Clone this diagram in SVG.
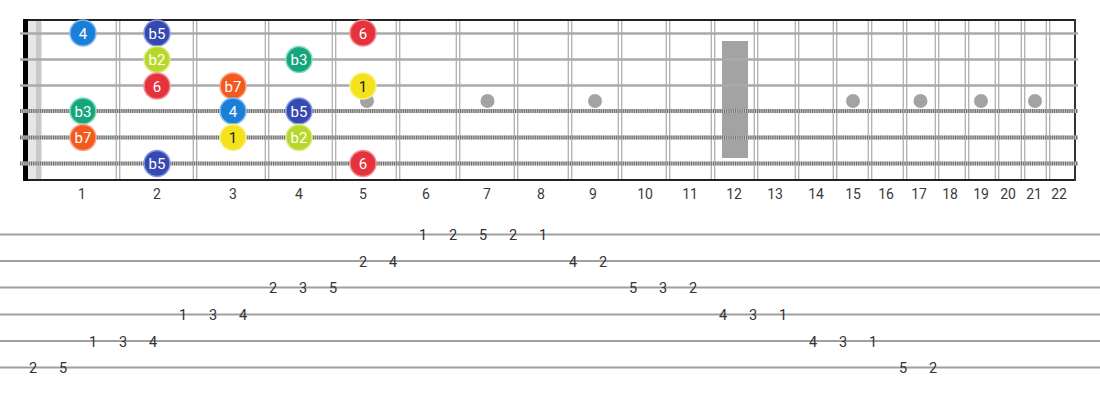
<svg xmlns="http://www.w3.org/2000/svg" width="1100" height="400" viewBox="0 0 1100 400">
<style>
.fw{stroke:#b0b0b0;stroke-width:1.3}
.str{stroke:#aaaaaa;stroke-width:2.6}
.wb{stroke:#c4c4c4;stroke-width:4}
.wd{stroke:#6e6e6e;stroke-width:4;stroke-dasharray:1.1 1.1}
.dot{fill:#a3a3a3}
.fn{font-family:Roboto,"Liberation Sans",sans-serif;font-size:14px;fill:#3a3a3a;text-anchor:middle}
.tl{stroke:#a0a0a0;stroke-width:2}
.tn{font-family:Roboto,"Liberation Sans",sans-serif;font-size:14.5px;fill:#333;text-anchor:middle}
.nt{font-family:Roboto,"Liberation Sans",sans-serif;font-size:15px;fill:#fff;text-anchor:middle}
.nk{fill:#222}
.c1{fill:#f4e21c;stroke:#fbf08a;stroke-width:1.5}
.c2{fill:#b9d62a;stroke:#dbed8a;stroke-width:1.5}
.c3{fill:#17a57c;stroke:#7fdcc0;stroke-width:1.5}
.c4{fill:#1b7fd8;stroke:#7cbcf2;stroke-width:1.5}
.c5{fill:#3549b0;stroke:#8797e6;stroke-width:1.5}
.c6{fill:#e5333d;stroke:#f48d92;stroke-width:1.5}
.c7{fill:#f25a1e;stroke:#f9a584;stroke-width:1.5}
</style>
<rect width="1100" height="400" fill="#fff"/>
<g id="fretboard">
<rect x="28" y="20" width="14" height="160" fill="#e6e6e6"/>
<rect x="36" y="20" width="5" height="160" fill="#c9c9c9"/>
<rect x="722" y="41" width="26" height="117" fill="#a3a3a3"/>
<g id="frets">
<line class="fw" x1="116.3" y1="20" x2="116.3" y2="180"/><line class="fw" x1="119.7" y1="20" x2="119.7" y2="180"/>
<line class="fw" x1="193.3" y1="20" x2="193.3" y2="180"/><line class="fw" x1="196.7" y1="20" x2="196.7" y2="180"/>
<line class="fw" x1="265.3" y1="20" x2="265.3" y2="180"/><line class="fw" x1="268.7" y1="20" x2="268.7" y2="180"/>
<line class="fw" x1="332.3" y1="20" x2="332.3" y2="180"/><line class="fw" x1="335.7" y1="20" x2="335.7" y2="180"/>
<line class="fw" x1="396.3" y1="20" x2="396.3" y2="180"/><line class="fw" x1="399.7" y1="20" x2="399.7" y2="180"/>
<line class="fw" x1="456.3" y1="20" x2="456.3" y2="180"/><line class="fw" x1="459.7" y1="20" x2="459.7" y2="180"/>
<line class="fw" x1="514.3" y1="20" x2="514.3" y2="180"/><line class="fw" x1="517.7" y1="20" x2="517.7" y2="180"/>
<line class="fw" x1="568.3" y1="20" x2="568.3" y2="180"/><line class="fw" x1="571.7" y1="20" x2="571.7" y2="180"/>
<line class="fw" x1="618.3" y1="20" x2="618.3" y2="180"/><line class="fw" x1="621.7" y1="20" x2="621.7" y2="180"/>
<line class="fw" x1="666.3" y1="20" x2="666.3" y2="180"/><line class="fw" x1="669.7" y1="20" x2="669.7" y2="180"/>
<line class="fw" x1="711.3" y1="20" x2="711.3" y2="180"/><line class="fw" x1="714.7" y1="20" x2="714.7" y2="180"/>
<line class="fw" x1="754.3" y1="20" x2="754.3" y2="180"/><line class="fw" x1="757.7" y1="20" x2="757.7" y2="180"/>
<line class="fw" x1="795.3" y1="20" x2="795.3" y2="180"/><line class="fw" x1="798.7" y1="20" x2="798.7" y2="180"/>
<line class="fw" x1="833.3" y1="20" x2="833.3" y2="180"/><line class="fw" x1="836.7" y1="20" x2="836.7" y2="180"/>
<line class="fw" x1="868.3" y1="20" x2="868.3" y2="180"/><line class="fw" x1="871.7" y1="20" x2="871.7" y2="180"/>
<line class="fw" x1="903.3" y1="20" x2="903.3" y2="180"/><line class="fw" x1="906.7" y1="20" x2="906.7" y2="180"/>
<line class="fw" x1="935.3" y1="20" x2="935.3" y2="180"/><line class="fw" x1="938.7" y1="20" x2="938.7" y2="180"/>
<line class="fw" x1="965.3" y1="20" x2="965.3" y2="180"/><line class="fw" x1="968.7" y1="20" x2="968.7" y2="180"/>
<line class="fw" x1="995.3" y1="20" x2="995.3" y2="180"/><line class="fw" x1="998.7" y1="20" x2="998.7" y2="180"/>
<line class="fw" x1="1021.3" y1="20" x2="1021.3" y2="180"/><line class="fw" x1="1024.7" y1="20" x2="1024.7" y2="180"/>
<line class="fw" x1="1046.3" y1="20" x2="1046.3" y2="180"/><line class="fw" x1="1049.7" y1="20" x2="1049.7" y2="180"/>
</g>
<g id="inlays">
<circle class="dot" cx="367" cy="101" r="7"/>
<circle class="dot" cx="487.5" cy="101" r="7"/>
<circle class="dot" cx="595" cy="101" r="7"/>
<circle class="dot" cx="853" cy="101" r="7"/>
<circle class="dot" cx="920.5" cy="101" r="7"/>
<circle class="dot" cx="981" cy="101" r="7"/>
<circle class="dot" cx="1035" cy="101" r="7"/>
</g>
<line x1="23" y1="20" x2="1076" y2="20" stroke="#222" stroke-width="2"/>
<line x1="23" y1="180" x2="1076" y2="180" stroke="#222" stroke-width="2"/>
<line x1="1075" y1="19" x2="1075" y2="181" stroke="#333" stroke-width="2"/>
<rect x="23" y="19" width="5" height="162" fill="#000"/>
<g id="strings">
<line class="str" x1="20" y1="33.5" x2="1078" y2="33.5"/>
<line class="str" x1="20" y1="59.5" x2="1078" y2="59.5"/>
<line class="str" x1="20" y1="85.5" x2="1078" y2="85.5"/>
<line class="wb" x1="20" y1="111" x2="1078" y2="111"/><line class="wd" x1="20" y1="111" x2="1078" y2="111"/>
<line class="wb" x1="20" y1="137.5" x2="1078" y2="137.5"/><line class="wd" x1="20" y1="137.5" x2="1078" y2="137.5"/>
<line class="wb" x1="20" y1="163.5" x2="1078" y2="163.5"/><line class="wd" x1="20" y1="163.5" x2="1078" y2="163.5"/>
</g>
<g id="fret-numbers">
<text class="fn" x="82" y="199">1</text>
<text class="fn" x="157" y="199">2</text>
<text class="fn" x="233" y="199">3</text>
<text class="fn" x="299" y="199">4</text>
<text class="fn" x="363" y="199">5</text>
<text class="fn" x="426" y="199">6</text>
<text class="fn" x="487" y="199">7</text>
<text class="fn" x="541" y="199">8</text>
<text class="fn" x="593" y="199">9</text>
<text class="fn" x="645" y="199">10</text>
<text class="fn" x="690" y="199">11</text>
<text class="fn" x="734" y="199">12</text>
<text class="fn" x="775" y="199">13</text>
<text class="fn" x="816" y="199">14</text>
<text class="fn" x="853" y="199">15</text>
<text class="fn" x="886" y="199">16</text>
<text class="fn" x="919" y="199">17</text>
<text class="fn" x="950" y="199">18</text>
<text class="fn" x="981" y="199">19</text>
<text class="fn" x="1008" y="199">20</text>
<text class="fn" x="1034" y="199">21</text>
<text class="fn" x="1059" y="199">22</text>
</g>
</g>
<g id="connectors"></g>
<g id="n-s1-4"><circle class="c4" cx="83" cy="33" r="13"/><text class="nt" x="83" y="38.5">4</text></g>
<g id="n-s1-b5"><circle class="c5" cx="157" cy="33" r="13"/><text class="nt" x="157" y="38.5">b5</text></g>
<g id="n-s1-6"><circle class="c6" cx="363" cy="33" r="13"/><text class="nt" x="363" y="38.5">6</text></g>
<g id="n-s2-b2"><circle class="c2" cx="157" cy="59.5" r="13"/><text class="nt" x="157" y="65">b2</text></g>
<g id="n-s2-b3"><circle class="c3" cx="299" cy="59.5" r="13"/><text class="nt" x="299" y="65">b3</text></g>
<g id="n-s3-6"><circle class="c6" cx="157" cy="86" r="13"/><text class="nt" x="157" y="91.5">6</text></g>
<g id="n-s3-b7"><circle class="c7" cx="233" cy="86" r="13"/><text class="nt" x="233" y="91.5">b7</text></g>
<g id="n-s3-1"><circle class="c1" cx="363" cy="86" r="13"/><text class="nt nk" x="363" y="91.5">1</text></g>
<g id="n-s4-b3"><circle class="c3" cx="83" cy="111" r="13"/><text class="nt" x="83" y="116.5">b3</text></g>
<g id="n-s4-4"><circle class="c4" cx="233" cy="111" r="13"/><text class="nt" x="233" y="116.5">4</text></g>
<g id="n-s4-b5"><circle class="c5" cx="299" cy="111" r="13"/><text class="nt" x="299" y="116.5">b5</text></g>
<g id="n-s5-b7"><circle class="c7" cx="83" cy="137.5" r="13"/><text class="nt" x="83" y="143">b7</text></g>
<g id="n-s5-1"><circle class="c1" cx="233" cy="137.5" r="13"/><text class="nt nk" x="233" y="143">1</text></g>
<g id="n-s5-b2"><circle class="c2" cx="299" cy="137.5" r="13"/><text class="nt" x="299" y="143">b2</text></g>
<g id="n-s6-b5"><circle class="c5" cx="157" cy="163.5" r="13"/><text class="nt" x="157" y="169">b5</text></g>
<g id="n-s6-6"><circle class="c6" cx="363" cy="163.5" r="13"/><text class="nt" x="363" y="169">6</text></g>
<g id="tab">
<line class="tl" x1="0" y1="234.5" x2="1100" y2="234.5"/>
<line class="tl" x1="0" y1="261" x2="1100" y2="261"/>
<line class="tl" x1="0" y1="287.5" x2="1100" y2="287.5"/>
<line class="tl" x1="0" y1="314.5" x2="1100" y2="314.5"/>
<line class="tl" x1="0" y1="341" x2="1100" y2="341"/>
<line class="tl" x1="0" y1="367.5" x2="1100" y2="367.5"/>
<text class="tn" x="423" y="240">1</text><text class="tn" x="453" y="240">2</text><text class="tn" x="483" y="240">5</text><text class="tn" x="513" y="240">2</text><text class="tn" x="543" y="240">1</text>
<text class="tn" x="363" y="266.5">2</text><text class="tn" x="393" y="266.5">4</text><text class="tn" x="573" y="266.5">4</text><text class="tn" x="603" y="266.5">2</text>
<text class="tn" x="273" y="293">2</text><text class="tn" x="303" y="293">3</text><text class="tn" x="333" y="293">5</text><text class="tn" x="633" y="293">5</text><text class="tn" x="663" y="293">3</text><text class="tn" x="693" y="293">2</text>
<text class="tn" x="183" y="320">1</text><text class="tn" x="213" y="320">3</text><text class="tn" x="243" y="320">4</text><text class="tn" x="723" y="320">4</text><text class="tn" x="753" y="320">3</text><text class="tn" x="783" y="320">1</text>
<text class="tn" x="93" y="346.5">1</text><text class="tn" x="123" y="346.5">3</text><text class="tn" x="153" y="346.5">4</text><text class="tn" x="813" y="346.5">4</text><text class="tn" x="843" y="346.5">3</text><text class="tn" x="873" y="346.5">1</text>
<text class="tn" x="33" y="373">2</text><text class="tn" x="63" y="373">5</text><text class="tn" x="903" y="373">5</text><text class="tn" x="933" y="373">2</text>
</g>
</svg>
